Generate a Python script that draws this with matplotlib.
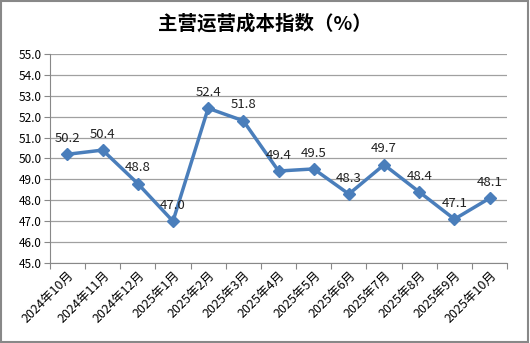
import matplotlib
matplotlib.use('Agg')
import matplotlib.pyplot as plt
from matplotlib.patches import Rectangle

plt.rcParams['font.family'] = ['Noto Sans CJK SC', 'DejaVu Sans']

months = ['2024年10月', '2024年11月', '2024年12月', '2025年1月', '2025年2月',
          '2025年3月', '2025年4月', '2025年5月', '2025年6月', '2025年7月',
          '2025年8月', '2025年9月', '2025年10月']
values = [50.2, 50.4, 48.8, 47.0, 52.4, 51.8, 49.4, 49.5, 48.3, 49.7, 48.4, 47.1, 48.1]
yticks = [45 + i for i in range(11)]

fig = plt.figure(figsize=(5.3, 3.43), dpi=100)
ax = fig.add_axes([0.094, 0.233, 0.863, 0.61])

x = list(range(len(values)))
ax.plot(x, values, color='#4a7ebb', lw=2.5, marker='D', ms=6, zorder=3)
for xi, v in zip(x, values):
    ax.text(xi, v + 0.45, f'{v:.1f}', ha='center', va='bottom', fontsize=9.5, color='#222222')

ax.set_xlim(-0.5, len(values) - 0.5)
ax.set_ylim(45, 55)
ax.set_yticks(yticks)
ax.set_yticklabels([f'{t:.1f}' for t in yticks], fontsize=8.5)
ax.yaxis.grid(True, color='#a0a0a0', lw=0.9)
ax.set_axisbelow(True)

# category ticks at boundaries, labels at centres
ax.set_xticks([i - 0.5 for i in range(len(values) + 1)])
ax.set_xticklabels([])
ax.set_xticks(x, minor=True)
ax.set_xticklabels(months, minor=True, rotation=45, ha='right', rotation_mode='anchor', fontsize=9)
ax.tick_params(axis='x', which='minor', length=0, pad=4)
ax.tick_params(axis='x', which='major', length=4, color='#888888')
ax.tick_params(axis='y', length=4, color='#888888', pad=2)

for s in ['top', 'right']:
    ax.spines[s].set_visible(False)
for s in ['left', 'bottom']:
    ax.spines[s].set_color('#888888')

fig.text(0.5, 0.93, '主营运营成本指数（%）', ha='center', va='center', fontsize=14, fontweight='bold')
fig.patches.append(Rectangle((0.002, 0.003), 0.994, 0.994, transform=fig.transFigure,
                             fill=False, edgecolor='#888888', lw=1.5))

fig.savefig('out.png', dpi=100)
